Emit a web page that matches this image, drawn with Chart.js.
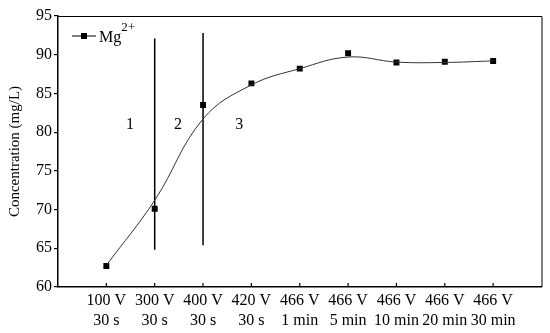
<!DOCTYPE html>
<html><head><meta charset="utf-8">
<script src="https://cdn.jsdelivr.net/npm/chart.js@4/dist/chart.umd.min.js"></script>
<style>html,body{margin:0;padding:0;background:#fff}</style>
</head><body>
<canvas id="c" width="550" height="333"></canvas>
<script>
const voltLabels = ['100 V','300 V','400 V','420 V','466 V','466 V','466 V','466 V','466 V'];
const timeLabels = ['30 s','30 s','30 s','30 s','1 min','5 min','10 min','20 min','30 min'];
const mgMeasured = [62.7, 70.1, 83.5, 86.3, 88.2, 90.2, 89.0, 89.1, 89.2];
const mgFitCurve = [62.8, 71.2, 81.7, 86.1, 88.2, 89.7, 89.05, 89.0, 89.2];
const boundaryPos = [1, 2];
const boundaryLow = [64.8, 65.4];
const boundaryHigh = [92.1, 92.8];
const regionNames = ['1', '2', '3'];
const regionPos = [0.49, 1.48, 2.75];
const regionLevel = [80.9, 80.9, 80.9];
const seriesName = 'Mg';
const seriesSup = '2+';
const yTitle = 'Concentration (mg/L)';

const FONT = '"Liberation Serif", "Times New Roman", serif';

const measuredPts = mgMeasured.map((v, i) => ({x: i, y: v}));
const curvePts = mgFitCurve.map((v, i) => ({x: i, y: v}));
const boundarySets = boundaryPos.map((p, i) => ({
  data: [{x: p, y: boundaryLow[i]}, {x: p, y: boundaryHigh[i]}],
  borderColor: '#000', borderWidth: 1.5, pointRadius: 0, tension: 0, showLine: true
}));

const extras = {
  id: 'extras',
  afterDraw(chart) {
    const ctx = chart.ctx, a = chart.chartArea;
    const xs = chart.scales.x, ys = chart.scales.y;
    ctx.save();
    // top & right frame
    ctx.strokeStyle = '#000'; ctx.lineWidth = 1;
    ctx.beginPath();
    ctx.moveTo(a.left, a.top + 0.5); ctx.lineTo(a.right + 0.5, a.top + 0.5);
    ctx.lineTo(a.right + 0.5, a.bottom);
    ctx.stroke();
    // inward x ticks
    ctx.lineWidth = 1.2;
    xs.ticks.forEach(t => {
      if (t.value < 0 || t.value > voltLabels.length - 1) return;
      const px = xs.getPixelForValue(t.value);
      ctx.beginPath(); ctx.moveTo(px, a.bottom); ctx.lineTo(px, a.bottom - 4); ctx.stroke();
    });
    // region labels
    ctx.fillStyle = '#000';
    ctx.font = '16px ' + FONT;
    ctx.textAlign = 'center'; ctx.textBaseline = 'middle';
    regionNames.forEach((n, i) => {
      ctx.fillText(n, xs.getPixelForValue(regionPos[i]), ys.getPixelForValue(regionLevel[i]));
    });
    // legend
    const ly = 36;
    ctx.strokeStyle = '#000'; ctx.lineWidth = 1;
    ctx.beginPath(); ctx.moveTo(72, ly); ctx.lineTo(96, ly); ctx.stroke();
    ctx.fillRect(81, ly - 3, 6, 6);
    ctx.textAlign = 'left'; ctx.textBaseline = 'alphabetic';
    ctx.font = '16px ' + FONT;
    ctx.fillText(seriesName, 99, ly + 5.5);
    const w = ctx.measureText(seriesName).width;
    ctx.font = '13px ' + FONT;
    ctx.fillText(seriesSup, 99 + w, ly - 5);
    ctx.restore();
  }
};

new Chart(document.getElementById('c'), {
  type: 'line',
  data: {
    datasets: [
      { data: curvePts, borderColor: '#333', borderWidth: 1, pointRadius: 0, tension: 0.4, fill: false },
      { data: measuredPts, showLine: false, pointStyle: 'rect', pointRadius: 4.2, borderWidth: 0,
        backgroundColor: '#000', borderColor: '#000' },
      ...boundarySets
    ]
  },
  options: {
    responsive: false,
    animation: false,
    devicePixelRatio: 1,
    layout: { padding: { top: 16, right: 8.5, left: 0, bottom: 0 } },
    plugins: { legend: { display: false }, tooltip: { enabled: false } },
    scales: {
      x: {
        type: 'linear', min: -1, max: 9,
        grid: { display: false, drawTicks: false },
        border: { display: true, color: '#000', width: 1.5 },
        ticks: {
          stepSize: 1, autoSkip: false, maxRotation: 0, padding: 4,
          color: '#000', font: { family: FONT, size: 16, lineHeight: 1.25 },
          callback: v => (v >= 0 && v <= voltLabels.length - 1 && Number.isInteger(v)) ? [voltLabels[v], timeLabels[v]] : ''
        },
        afterFit: s => { s.height = 46; }
      },
      y: {
        min: 60, max: 95,
        grid: { display: true, drawOnChartArea: false, drawTicks: true, tickLength: 4, color: '#000', lineWidth: 1.2 },
        border: { display: true, color: '#000', width: 1.5 },
        ticks: { stepSize: 5, padding: 2, color: '#000', font: { family: FONT, size: 16 } },
        title: { display: true, text: yTitle, color: '#000', font: { family: FONT, size: 15 }, padding: { top: 6, bottom: 0 } },
        afterFit: s => { s.width = 58; }
      }
    }
  },
  plugins: [extras]
});
</script>
</body></html>
